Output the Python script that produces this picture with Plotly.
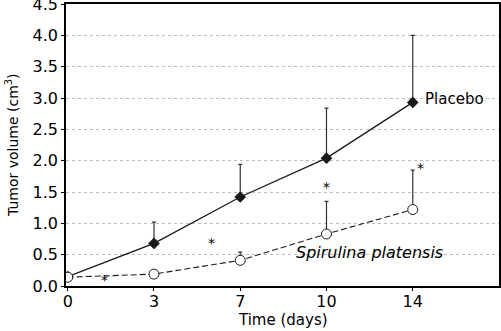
import plotly.graph_objects as go

days = ["0", "3", "7", "10", "14"]
placebo = [0.15, 0.68, 1.42, 2.04, 2.93]
placebo_err = [0.0, 0.34, 0.52, 0.80, 1.07]
spirulina = [0.14, 0.19, 0.41, 0.83, 1.22]
spirulina_err = [0.0, 0.0, 0.13, 0.52, 0.63]
star_x = [0.43, 1.67, 3.0, 4.09]
star_y = [0.10, 0.68, 1.58, 1.88]
yticks = [0.0, 0.5, 1.0, 1.5, 2.0, 2.5, 3.0, 3.5, 4.0, 4.5]

idx = list(range(len(days)))
font = "DejaVu Sans"

fig = go.Figure()
fig.add_trace(go.Scatter(
    x=idx, y=placebo, mode="lines+markers",
    line=dict(color="#1a1a1a", width=1.3),
    marker=dict(symbol="diamond", size=9, color="#1a1a1a"),
    error_y=dict(type="data", array=placebo_err, arrayminus=[0]*5, symmetric=False,
                 color="#333333", thickness=1.2, width=2),
))
fig.add_trace(go.Scatter(
    x=idx, y=spirulina, mode="lines+markers",
    line=dict(color="#1a1a1a", width=1.1, dash="6px,3px"),
    marker=dict(symbol="circle", size=10, color="white", line=dict(color="#1a1a1a", width=1)),
    error_y=dict(type="data", array=spirulina_err, arrayminus=[0]*5, symmetric=False,
                 color="#333333", thickness=1.2, width=2),
))
for sx, sy in zip(star_x, star_y):
    fig.add_annotation(x=sx, y=sy, text="*", showarrow=False,
                       font=dict(family=font, size=14, color="black"))
fig.add_annotation(x=4.12, y=2.98, text="Placebo", showarrow=False, xanchor="left",
                   font=dict(family=font, size=15, color="black"))
fig.add_annotation(x=2.62, y=0.53, text="<i>Spirulina platensis</i>", showarrow=False,
                   xanchor="left", font=dict(family=font, size=16, color="black"))
fig.add_annotation(x=0.5, y=0, xref="paper", yref="paper", yshift=-23, text="Time (days)",
                   showarrow=False, xanchor="center", yanchor="top",
                   font=dict(family=font, size=15, color="black"))
fig.add_annotation(x=0, y=0.5, xref="paper", yref="paper", xshift=-65,
                   text="Tumor volume (cm<sup>3</sup>)", textangle=-90,
                   showarrow=False, xanchor="left", yanchor="middle",
                   font=dict(family=font, size=14, color="black"))

fig.update_layout(
    width=501, height=331, showlegend=False,
    margin=dict(l=66, r=2, t=4, b=45),
    plot_bgcolor="white", paper_bgcolor="white",
    font=dict(family=font, size=15, color="black"),
)
fig.update_xaxes(
    range=[-0.02, 5.0], tickvals=idx, ticktext=days, automargin=False,
    showgrid=False, zeroline=False, showline=True, linecolor="black", linewidth=1.5,
    mirror=True, ticks="outside", ticklen=3, tickcolor="black",
    tickfont=dict(size=16), ticklabeloverflow="allow", ticklabelstandoff=-3,
)
fig.update_yaxes(
    range=[0, 4.5], tickvals=yticks, tickformat=".1f", automargin=False,
    showgrid=True, gridcolor="#bdbdbd", griddash="dot", gridwidth=1,
    zeroline=False, showline=True, linecolor="black", linewidth=1.5, mirror=True,
    ticks="outside", ticklen=3, tickcolor="black",
    tickfont=dict(size=16), ticklabeloverflow="allow",
)
fig.write_html("out.html", config={"displayModeBar": False},
               post_script="document.body.style.margin='0';document.body.style.overflow='hidden';")
